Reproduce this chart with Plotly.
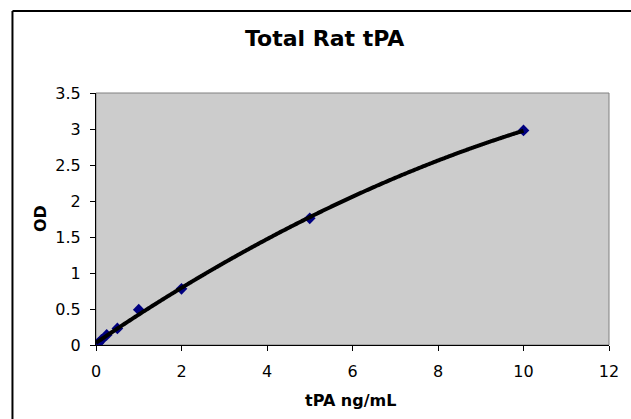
import numpy as np
import plotly.graph_objects as go

conc = [0, 0.0625, 0.125, 0.25, 0.5, 1, 2, 5, 10]
od = [0.01, 0.03, 0.07, 0.14, 0.23, 0.49, 0.78, 1.76, 2.98]
x_ticks = [0, 2, 4, 6, 8, 10, 12]
y_ticks = [0, 0.5, 1, 1.5, 2, 2.5, 3, 3.5]

W, H = 631, 419
L, R, T, B = 96, 618, 93, 345
pw, ph = R - L, B - T

coef = np.polyfit(conc, od, 2)
xf = np.linspace(min(conc), max(conc), 200)
yf = np.polyval(coef, xf)

FONT = "DejaVu Sans"

fig = go.Figure()
fig.add_trace(go.Scatter(x=conc, y=od, mode="markers",
                         marker=dict(symbol="diamond", color="#000080", size=9,
                                     line=dict(width=0))))
fig.add_trace(go.Scatter(x=xf, y=yf, mode="lines",
                         line=dict(color="black", width=4, simplify=False,
                                   shape="spline"),
                         hoverinfo="skip"))


def px(x):
    return (x - L) / pw


def py(y):
    return (B - y) / ph


fig.update_layout(
    width=W, height=H,
    margin=dict(l=L, r=W - R, t=T, b=H - B, pad=0),
    paper_bgcolor="white",
    plot_bgcolor="#CCCCCC",
    showlegend=False,
    font=dict(family=FONT, size=16, color="black"),
    xaxis=dict(range=[0, 12], tickvals=x_ticks, showgrid=False, zeroline=False,
               showline=True, linecolor="#000000", linewidth=1,
               ticks="outside", ticklen=5, tickcolor="#000000",
               ticklabelstandoff=7,
               tickfont=dict(family=FONT, size=16)),
    yaxis=dict(range=[0, 3.5], tickvals=y_ticks, showgrid=False, zeroline=False,
               showline=True, linecolor="#000000", linewidth=1,
               ticks="outside", ticklen=5, tickcolor="#000000",
               ticklabelstandoff=6,
               tickfont=dict(family=FONT, size=16)),
    shapes=[
        dict(type="rect", xref="paper", yref="paper", x0=0, y0=0, x1=1, y1=1,
             line=dict(color="#808080", width=1), layer="below"),
        dict(type="line", xref="paper", yref="paper", x0=px(11), y0=py(11),
             x1=px(700), y1=py(11), line=dict(color="black", width=2)),
        dict(type="line", xref="paper", yref="paper", x0=px(11), y0=py(11),
             x1=px(11), y1=py(500), line=dict(color="black", width=2)),
    ],
    annotations=[
        dict(text="<b>Total Rat tPA</b>", xref="paper", yref="paper",
             x=px(329), y=py(38), xanchor="center", yanchor="middle",
             showarrow=False, font=dict(family=FONT, size=22, color="black")),
        dict(text="<b>OD</b>", xref="paper", yref="paper",
             x=px(39), y=py(218), xanchor="center", yanchor="middle",
             textangle=-90, showarrow=False,
             font=dict(family=FONT, size=16, color="black")),
        dict(text="<b>tPA ng/mL</b>", xref="paper", yref="paper",
             x=px(355), y=py(400), xanchor="center", yanchor="middle",
             showarrow=False, font=dict(family=FONT, size=16, color="black")),
    ],
)

fig.write_html(
    "out.html",
    config={"displayModeBar": False},
    post_script="document.body.style.margin='0';document.body.style.overflow='hidden';",
)
